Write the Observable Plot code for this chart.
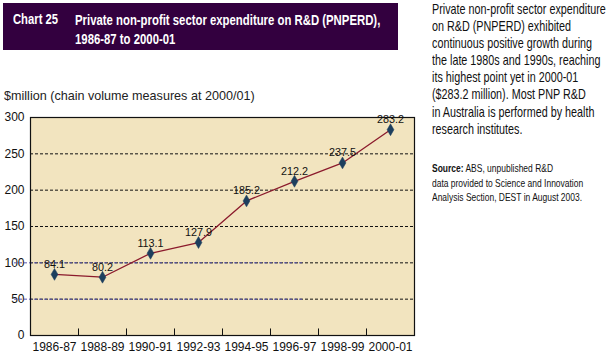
<!DOCTYPE html>
<html><head><meta charset="utf-8">
<script src="https://cdn.jsdelivr.net/npm/d3@7"></script>
<script src="https://cdn.jsdelivr.net/npm/@observablehq/plot@0.6"></script>
<style>
body{margin:0;background:#fff;width:609px;height:360px;position:relative;overflow:hidden;font-family:"Liberation Sans",Arial,sans-serif;}
#bar{position:absolute;left:3px;top:3px;width:395px;height:47px;background:#33003f;color:#fff;font-family:"Liberation Sans",Arial,sans-serif;font-weight:bold;font-size:15px;}
.fit{position:absolute;white-space:nowrap;transform-origin:0 0;}
#num{left:10px;top:7px;}
#ttl{left:72px;top:7px;line-height:19px;}
#side{left:432px;top:1px;font-size:14.5px;line-height:17.1px;color:#111;}
#src{left:432px;top:161px;font-size:11.5px;line-height:14.5px;color:#111;}
#ylab{position:absolute;left:4px;top:89px;font-size:12.6px;color:#222;white-space:nowrap;}
#chart{position:absolute;left:0;top:100px;}
</style></head>
<body>
<div id="bar"><span id="num" class="fit" data-w="45">Chart 25</span><span id="ttl" class="fit" data-w="305">Private non-profit sector expenditure on R&amp;D (PNPERD),<br>1986-87 to 2000-01</span></div>
<div id="side" class="fit" data-w="174">Private non-profit sector expenditure<br>on R&amp;D (PNPERD) exhibited<br>continuous positive growth during<br>the late 1980s and 1990s, reaching<br>its highest point yet in 2000-01<br>($283.2 million). Most PNP R&amp;D<br>in Australia is performed by health<br>research institutes.</div>
<div id="src" class="fit" data-w="151"><b>Source:</b> ABS, unpublished R&amp;D<br>data provided to Science and Innovation<br>Analysis Section, DEST in August 2003.</div>
<div id="ylab">$million (chain volume measures at 2000/01)</div>
<div id="chart"></div>
<script>
const years = ["1986-87","1988-89","1990-91","1992-93","1994-95","1996-97","1998-99","2000-01"];
const values = [84.1, 80.2, 113.1, 127.9, 185.2, 212.2, 237.5, 283.2];
const yTicks = [0, 50, 100, 150, 200, 250, 300];
const gridLines = [50, 100, 150, 200, 250];
const gridBlue = [50, 100];

document.querySelectorAll(".fit").forEach(el => {
  const w = el.scrollWidth, target = +el.dataset.w;
  el.style.transform = `scaleX(${target / w})`;
});

const data = years.map((y, i) => ({year: y, value: values[i]}));
const W = 430, ML = 30, MR = 16;
const halfBand = (W - ML - MR) / years.length / 2;

const chart = Plot.plot({
  width: W, height: 260,
  marginLeft: ML, marginRight: MR, marginTop: 17, marginBottom: 25,
  style: {fontFamily: "Liberation Sans, Arial, sans-serif", fontSize: "12px", background: "transparent", color: "#111"},
  x: {type: "band", domain: years, padding: 0, tickSize: 0, tickPadding: 7, label: null},
  y: {domain: [0, 300], ticks: yTicks, tickSize: 0, tickPadding: 6, label: null},
  marks: [
    Plot.frame({fill: "#f2e4bf"}),
    Plot.ruleY(gridLines, {stroke: "#111", strokeDasharray: "3,2", strokeWidth: 1}),
    Plot.ruleY(gridBlue, {x1: () => years[0], x2: () => years[5], dx: -16, stroke: "#5a55b0", strokeDasharray: "3,2", strokeWidth: 1}),
    Plot.ruleX(years.slice(1), {x: d => d, y1: 0, y2: 9, dx: -halfBand, stroke: "#111"}),
    Plot.line(data, {x: "year", y: "value", stroke: "#8b1a2c", strokeWidth: 1.3}),
    Plot.dot(data, {x: "year", y: "value", symbol: "diamond", r: 3.6, fill: "#1d3f5e", stroke: "#1d3f5e", strokeWidth: 0.5}),
    Plot.text(data, {x: "year", y: "value", text: d => d.value.toFixed(1), dy: -10, fill: "#111", fontSize: 10.8}),
    Plot.frame({stroke: "#111", strokeWidth: 1.2})
  ]
});
document.getElementById("chart").appendChild(chart);
</script>
</body></html>
